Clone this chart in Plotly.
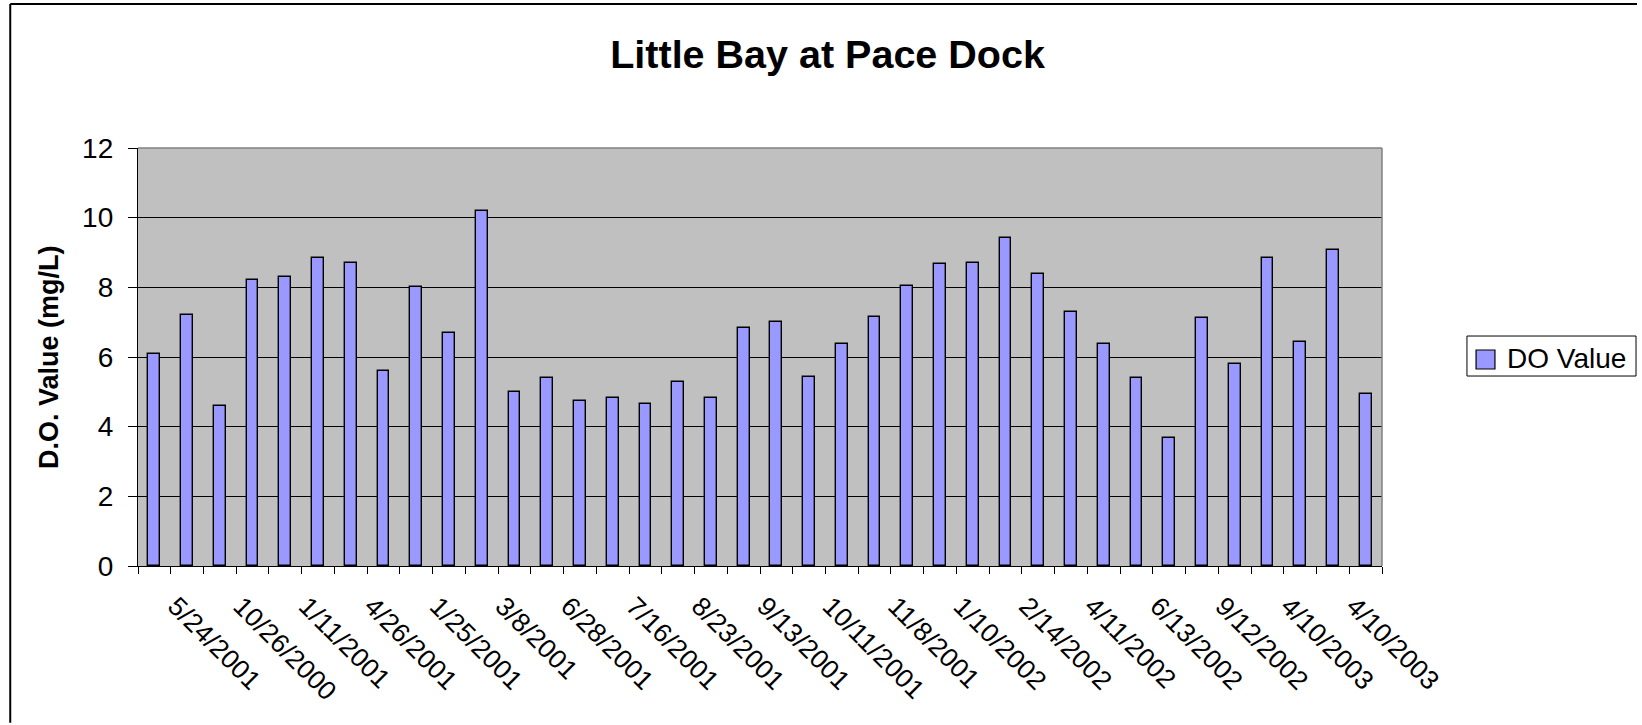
import plotly.graph_objects as go

# Dissolved-oxygen readings, one per sampling visit (38 visits)
sample_index = list(range(38))
do_values = [
    6.1, 7.2, 4.6, 8.2, 8.3, 8.85, 8.7, 5.6, 8.0, 6.7,
    10.2, 5.0, 5.4, 4.75, 4.82, 4.65, 5.27, 4.82, 6.82, 7.0,
    5.44, 6.36, 7.16, 8.03, 8.66, 8.71, 9.41, 8.38, 7.28, 6.36,
    5.39, 3.67, 7.11, 5.79, 8.84, 6.42, 9.06, 4.93,
]

# Dates shown on the category axis (every second visit is labelled)
date_labels = [
    "5/24/2001", "10/26/2000", "1/11/2001", "4/26/2001", "1/25/2001",
    "3/8/2001", "6/28/2001", "7/16/2001", "8/23/2001", "9/13/2001",
    "10/11/2001", "11/8/2001", "1/10/2002", "2/14/2002", "4/11/2002",
    "6/13/2002", "9/12/2002", "4/10/2003", "4/10/2003",
]
y_ticks = [0, 2, 4, 6, 8, 10, 12]
series_name = "DO Value"

FONT = "Liberation Sans, Arial, sans-serif"
BAR_COLOR = "#9999FF"

# Rotated labels hang down-right from a point just right of their visit
label_offset = 0.65
label_positions = [i + label_offset for i in sample_index[::2]]

fig = go.Figure()
fig.add_trace(go.Bar(
    x=sample_index,
    y=do_values,
    name=series_name,
    width=0.36,
    showlegend=False,
    marker=dict(color=BAR_COLOR, line=dict(color="black", width=1.4)),
))

fig.update_layout(
    width=1642,
    height=725,
    margin=dict(l=138, r=260, t=148, b=159),
    paper_bgcolor="white",
    plot_bgcolor="#C0C0C0",
    font=dict(family=FONT, color="black", size=26),
    title=dict(
        text="<b>Little Bay at Pace Dock</b>",
        font=dict(family=FONT, size=39.5, color="black"),
        x=0.504, xref="container", xanchor="center",
        y=0.925, yref="container", yanchor="middle",
    ),
    bargap=0,
)

fig.update_xaxes(
    range=[-0.5, 37.5],
    tickmode="array",
    tickvals=label_positions,
    ticktext=date_labels,
    tickangle=45,
    ticks="",
    ticklabelstandoff=13,
    tickfont=dict(family=FONT, size=26.5, color="black"),
    showgrid=False,
    zeroline=False,
    showline=True, linecolor="black", linewidth=1.3,
    minor=dict(
        tickmode="array",
        tickvals=[i - 0.5 for i in range(39)],
        ticks="outside", ticklen=7, tickcolor="black", tickwidth=1,
        showgrid=False,
    ),
)

fig.update_yaxes(
    range=[0, 12],
    tickmode="array",
    tickvals=y_ticks,
    ticks="outside", ticklen=9, tickcolor="black", tickwidth=1,
    ticklabelstandoff=9,
    tickfont=dict(family=FONT, size=28, color="black"),
    showgrid=True, gridcolor="black", gridwidth=1,
    zeroline=False,
    showline=True, linecolor="black", linewidth=1.3,
)

# Y-axis title
fig.add_annotation(
    text="<b>D.O. Value (mg/L)</b>",
    xref="paper", yref="paper",
    x=-0.0715, y=0.5,
    xanchor="center", yanchor="middle",
    textangle=-90,
    showarrow=False,
    font=dict(family=FONT, size=27, color="black"),
)

# Grey frame on the top and right of the plot area
fig.add_shape(type="line", xref="paper", yref="paper",
              x0=0, x1=1, y0=1, y1=1, line=dict(color="#808080", width=1.5))
fig.add_shape(type="line", xref="paper", yref="paper",
              x0=1, x1=1, y0=0, y1=1, line=dict(color="#808080", width=1.5))

# Legend: framed box with a colour swatch and the series name
fig.add_shape(type="rect", xref="paper", yref="paper",
              x0=1.0683, x1=1.2042, y0=0.4545, y1=0.5502,
              line=dict(color="black", width=1), fillcolor="white")
fig.add_shape(type="rect", xref="paper", yref="paper",
              x0=1.0756, x1=1.0908, y0=0.4713, y1=0.5167,
              line=dict(color="black", width=1.2), fillcolor=BAR_COLOR)
fig.add_annotation(
    text=series_name,
    xref="paper", yref="paper",
    x=1.0989, y=0.4976,
    xanchor="left", yanchor="middle",
    showarrow=False,
    font=dict(family=FONT, size=28, color="black"),
)

# Chart-area border along the left and top edges of the page
fig.add_shape(type="line", xref="paper", yref="paper",
              x0=-0.1027, x1=-0.1027, y0=-0.375, y1=1.3443,
              line=dict(color="black", width=2))
fig.add_shape(type="line", xref="paper", yref="paper",
              x0=-0.1027, x1=1.205, y0=1.3443, y1=1.3443,
              line=dict(color="black", width=2))

# Keep the page free of scrollbars
no_scroll = (
    "document.documentElement.style.overflow='hidden';"
    "document.body.style.overflow='hidden';"
    "document.body.style.margin='0';"
)

fig.write_html("out.html", config={"displayModeBar": False}, post_script=no_scroll)
